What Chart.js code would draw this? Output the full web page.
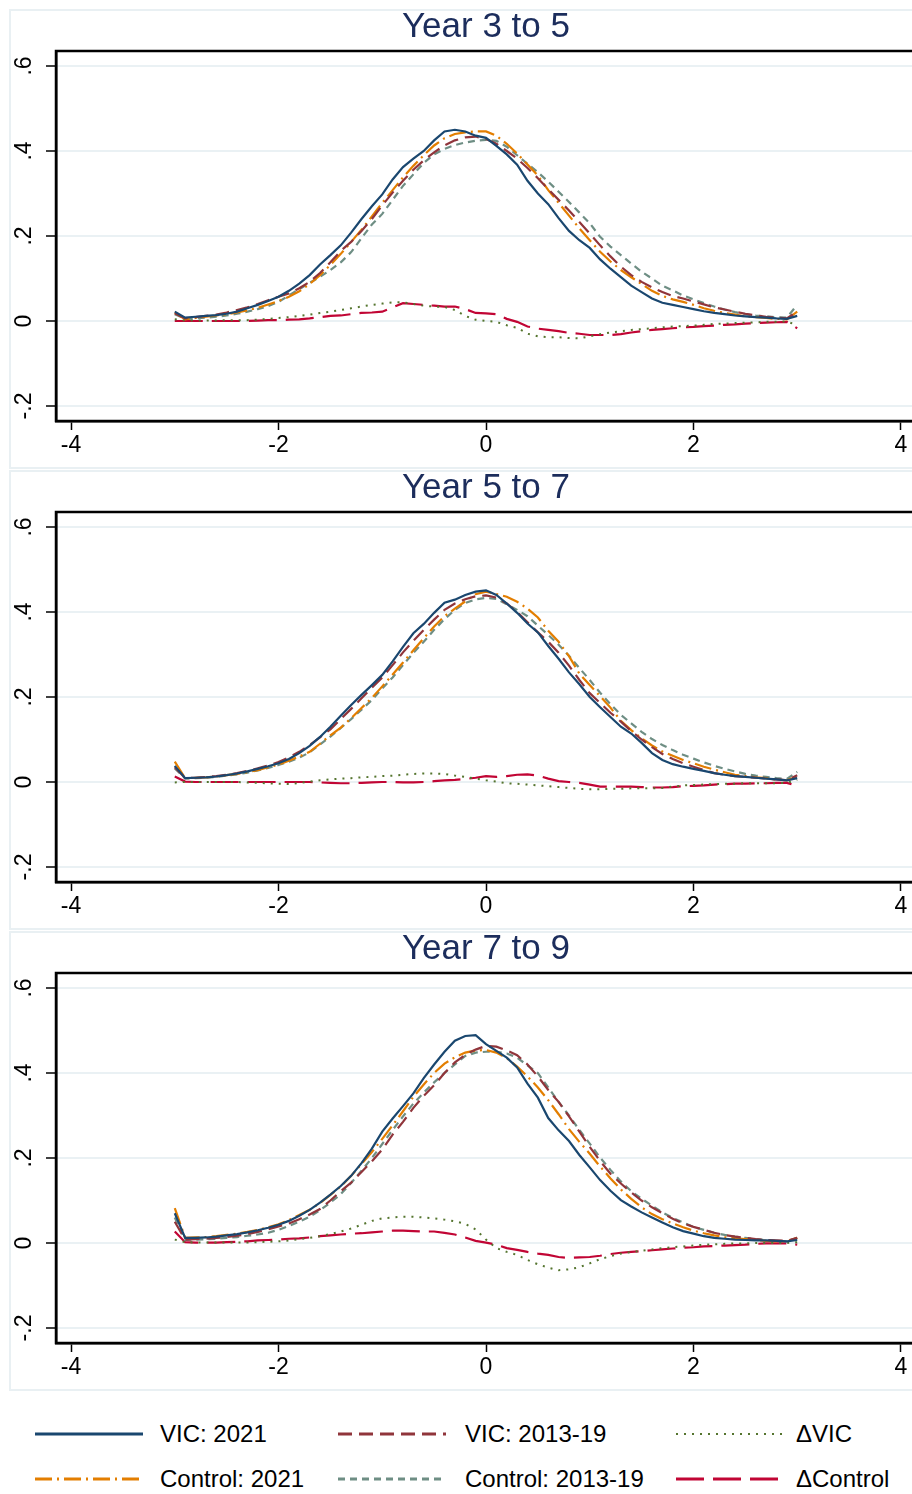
<!DOCTYPE html>
<html>
<head>
<meta charset="utf-8">
<script src="https://cdn.jsdelivr.net/npm/chart.js@4.4.1/dist/chart.umd.min.js"></script>
<style>
  body { margin:0; background:#fff; width:912px; height:1494px; overflow:hidden; position:relative;
         font-family:"Liberation Sans", Arial, Helvetica, sans-serif; }
  .frame { position:absolute; left:9px; width:980px; height:460px; box-sizing:border-box; border:2px solid #e9f0f3; }
  .panel { position:absolute; left:9px; }
  .title { position:absolute; left:0; width:972px; text-align:center; font-size:35px; line-height:34px; color:#1c2d5c; }
  .key { position:absolute; font-size:24px; line-height:24px; color:#000; white-space:nowrap; }
  .swatch { position:absolute; }
</style>
</head>
<body>
<script>
// common evaluation grid, -3 .. 3 in steps of 0.1
const xGrid = [
  -3.0,-2.9,-2.8,-2.7,-2.6,-2.5,-2.4,-2.3,-2.2,-2.1,
  -2.0,-1.9,-1.8,-1.7,-1.6,-1.5,-1.4,-1.3,-1.2,-1.1,
  -1.0,-0.9,-0.8,-0.7,-0.6,-0.5,-0.4,-0.3,-0.2,-0.1,
   0.0, 0.1, 0.2, 0.3, 0.4, 0.5, 0.6, 0.7, 0.8, 0.9,
   1.0, 1.1, 1.2, 1.3, 1.4, 1.5, 1.6, 1.7, 1.8, 1.9,
   2.0, 2.1, 2.2, 2.3, 2.4, 2.5, 2.6, 2.7, 2.8, 2.9,
   3.0
];
const xTicks = [-4, -2, 0, 2, 4];
const yTicks = [-0.2, 0, 0.2, 0.4, 0.6];
const panelTitles = ['Year 3 to 5', 'Year 5 to 7', 'Year 7 to 9'];
const seriesNames = ['VIC: 2021', 'VIC: 2013-19', '\u0394VIC', 'Control: 2021', 'Control: 2013-19', '\u0394Control'];

// ---- Year 3 to 5 ----
const vic21_35 = [
  0.022,0.008,0.010,0.012,0.014,0.017,0.022,0.030,0.038,0.047,
  0.057,0.071,0.088,0.108,0.133,0.155,0.178,0.208,0.240,0.270,
  0.298,0.333,0.362,0.382,0.400,0.425,0.446,0.450,0.446,0.436,
  0.431,0.412,0.392,0.368,0.330,0.300,0.275,0.242,0.212,0.190,
  0.172,0.145,0.123,0.103,0.083,0.068,0.053,0.043,0.038,0.033,
  0.028,0.023,0.019,0.016,0.013,0.011,0.009,0.008,0.006,0.005,
  0.012
];
const vic1319_35 = [
  0.018,0.006,0.009,0.012,0.015,0.020,0.026,0.032,0.040,0.049,
  0.057,0.065,0.077,0.092,0.113,0.138,0.165,0.186,0.212,0.240,
  0.272,0.302,0.330,0.356,0.378,0.397,0.413,0.425,0.432,0.434,
  0.428,0.417,0.400,0.382,0.360,0.336,0.310,0.285,0.260,0.233,
  0.206,0.178,0.152,0.128,0.108,0.092,0.079,0.068,0.059,0.053,
  0.046,0.039,0.032,0.027,0.022,0.017,0.013,0.010,0.008,0.006,
  0.022
];
const dvic_35 = [
  0.004,0.001,0.001,0.001,0.001,0.002,0.002,0.002,0.003,0.005,
  0.007,0.009,0.012,0.015,0.019,0.022,0.026,0.030,0.034,0.038,
  0.041,0.044,0.044,0.040,0.036,0.034,0.033,0.026,0.012,0.003,
  0.000,-0.002,-0.010,-0.016,-0.030,-0.036,-0.038,-0.038,-0.040,-0.041,
  -0.036,-0.031,-0.027,-0.024,-0.021,-0.019,-0.017,-0.015,-0.013,-0.012,
  -0.011,-0.009,-0.007,-0.006,-0.005,-0.004,-0.003,-0.002,-0.002,-0.001,
  -0.010
];
const ctl21_35 = [
  0.020,0.004,0.007,0.010,0.013,0.016,0.020,0.025,0.031,0.039,
  0.047,0.057,0.070,0.087,0.108,0.132,0.158,0.186,0.215,0.246,
  0.278,0.308,0.338,0.365,0.390,0.413,0.430,0.440,0.444,0.446,
  0.446,0.436,0.417,0.394,0.368,0.342,0.308,0.278,0.248,0.218,
  0.190,0.163,0.140,0.120,0.103,0.087,0.071,0.059,0.051,0.045,
  0.038,0.030,0.024,0.019,0.015,0.011,0.009,0.007,0.005,0.004,
  0.022
];
const ctl1319_35 = [
  0.016,0.005,0.006,0.008,0.010,0.013,0.017,0.022,0.028,0.035,
  0.045,0.060,0.075,0.090,0.104,0.120,0.138,0.162,0.195,0.227,
  0.252,0.285,0.318,0.345,0.372,0.392,0.405,0.414,0.420,0.424,
  0.426,0.424,0.410,0.390,0.370,0.350,0.328,0.304,0.280,0.255,
  0.230,0.198,0.175,0.155,0.135,0.116,0.100,0.083,0.072,0.060,
  0.051,0.042,0.034,0.027,0.021,0.016,0.013,0.011,0.009,0.008,
  0.038
];
const dctl_35 = [
  0.000,0.000,0.000,0.000,0.000,0.000,0.000,0.000,0.001,0.002,
  0.002,0.003,0.004,0.006,0.009,0.012,0.013,0.016,0.019,0.020,
  0.022,0.032,0.042,0.040,0.038,0.036,0.034,0.034,0.028,0.019,
  0.018,0.016,0.005,-0.002,-0.013,-0.018,-0.021,-0.024,-0.028,-0.030,
  -0.033,-0.033,-0.033,-0.031,-0.027,-0.024,-0.021,-0.019,-0.017,-0.015,
  -0.014,-0.012,-0.011,-0.009,-0.008,-0.006,-0.005,-0.004,-0.003,-0.002,
  -0.017
];

// ---- Year 5 to 7 ----
const vic21_57 = [
  0.038,0.009,0.010,0.011,0.013,0.016,0.020,0.025,0.031,0.037,
  0.044,0.054,0.068,0.085,0.106,0.130,0.156,0.181,0.205,0.228,
  0.252,0.284,0.318,0.350,0.372,0.398,0.422,0.429,0.440,0.448,
  0.451,0.440,0.420,0.398,0.373,0.352,0.320,0.290,0.258,0.230,
  0.200,0.176,0.153,0.130,0.114,0.092,0.068,0.052,0.042,0.036,
  0.031,0.026,0.021,0.017,0.014,0.012,0.010,0.008,0.006,0.004,
  0.009
];
const vic1319_57 = [
  0.035,0.009,0.010,0.012,0.014,0.017,0.021,0.026,0.032,0.039,
  0.047,0.058,0.071,0.087,0.105,0.124,0.148,0.172,0.197,0.222,
  0.246,0.275,0.305,0.332,0.358,0.382,0.405,0.420,0.430,0.437,
  0.439,0.434,0.420,0.400,0.376,0.352,0.330,0.304,0.274,0.240,
  0.209,0.186,0.163,0.142,0.120,0.100,0.082,0.066,0.054,0.044,
  0.036,0.028,0.021,0.017,0.014,0.012,0.010,0.008,0.006,0.004,
  0.016
];
const dvic_57 = [
  -0.001,0.000,0.000,0.000,0.000,0.000,0.000,-0.001,-0.002,-0.003,
  -0.004,-0.005,-0.002,0.001,0.004,0.006,0.008,0.009,0.011,0.012,
  0.014,0.015,0.017,0.019,0.020,0.020,0.019,0.015,0.012,0.008,
  0.004,0.001,-0.003,-0.004,-0.006,-0.008,-0.010,-0.012,-0.014,-0.016,
  -0.017,-0.017,-0.016,-0.016,-0.015,-0.015,-0.015,-0.014,-0.011,-0.008,
  -0.007,-0.006,-0.005,-0.004,-0.004,-0.003,-0.003,-0.003,-0.003,-0.002,
  0.005
];
const ctl21_57 = [
  0.048,0.009,0.010,0.011,0.013,0.016,0.019,0.023,0.028,0.035,
  0.041,0.050,0.060,0.071,0.090,0.110,0.128,0.150,0.174,0.198,
  0.225,0.253,0.281,0.310,0.338,0.366,0.390,0.408,0.425,0.442,
  0.448,0.442,0.436,0.424,0.408,0.387,0.356,0.330,0.296,0.255,
  0.228,0.202,0.175,0.144,0.122,0.103,0.086,0.072,0.062,0.052,
  0.044,0.036,0.029,0.023,0.017,0.014,0.011,0.009,0.006,0.004,
  0.013
];
const ctl1319_57 = [
  0.032,0.008,0.009,0.010,0.012,0.015,0.018,0.022,0.027,0.033,
  0.040,0.048,0.057,0.070,0.088,0.107,0.127,0.148,0.170,0.193,
  0.220,0.246,0.275,0.304,0.330,0.358,0.383,0.405,0.421,0.430,
  0.433,0.431,0.418,0.405,0.390,0.368,0.346,0.323,0.297,0.268,
  0.240,0.210,0.183,0.158,0.138,0.118,0.101,0.087,0.075,0.064,
  0.055,0.046,0.038,0.031,0.025,0.019,0.015,0.012,0.009,0.007,
  0.024
];
const dctl_57 = [
  0.013,0.001,0.000,0.000,0.000,0.000,0.000,0.000,0.000,0.000,
  0.000,0.000,0.000,0.000,-0.001,-0.002,-0.003,-0.003,-0.002,-0.001,
  0.000,0.000,-0.001,-0.001,0.000,0.002,0.004,0.005,0.007,0.010,
  0.014,0.012,0.014,0.017,0.018,0.015,0.008,0.002,0.000,-0.002,
  -0.006,-0.011,-0.011,-0.011,-0.011,-0.012,-0.013,-0.013,-0.012,-0.010,
  -0.009,-0.008,-0.006,-0.005,-0.004,-0.004,-0.003,-0.003,-0.002,-0.002,
  -0.009
];

// ---- Year 7 to 9 ----
const vic21_79 = [
  0.070,0.012,0.012,0.013,0.015,0.018,0.021,0.025,0.030,0.036,
  0.043,0.052,0.064,0.078,0.095,0.114,0.134,0.158,0.188,0.222,
  0.262,0.293,0.322,0.352,0.388,0.420,0.450,0.476,0.487,0.489,
  0.468,0.452,0.436,0.413,0.375,0.342,0.294,0.265,0.240,0.207,
  0.178,0.148,0.123,0.101,0.086,0.072,0.060,0.048,0.037,0.028,
  0.022,0.016,0.012,0.010,0.008,0.007,0.006,0.006,0.005,0.004,
  0.007
];
const vic1319_79 = [
  0.050,0.008,0.009,0.010,0.012,0.014,0.017,0.021,0.026,0.032,
  0.039,0.046,0.056,0.067,0.080,0.100,0.122,0.142,0.167,0.192,
  0.220,0.255,0.285,0.318,0.346,0.371,0.400,0.425,0.443,0.455,
  0.464,0.462,0.453,0.442,0.420,0.392,0.360,0.332,0.298,0.262,
  0.226,0.193,0.163,0.140,0.119,0.100,0.084,0.070,0.057,0.046,
  0.038,0.031,0.024,0.019,0.015,0.012,0.009,0.007,0.006,0.005,
  0.012
];
const dvic_79 = [
  0.008,0.002,0.001,0.001,0.001,0.001,0.001,0.001,0.002,0.003,
  0.004,0.006,0.009,0.012,0.016,0.021,0.027,0.034,0.043,0.052,
  0.058,0.060,0.062,0.062,0.060,0.058,0.055,0.051,0.045,0.032,
  0.008,-0.012,-0.021,-0.028,-0.040,-0.050,-0.058,-0.064,-0.062,-0.057,
  -0.048,-0.038,-0.031,-0.025,-0.021,-0.018,-0.015,-0.012,-0.010,-0.008,
  -0.006,-0.004,-0.003,-0.002,-0.001,-0.001,0.000,0.000,0.000,0.000,
  0.002
];
const ctl21_79 = [
  0.082,0.012,0.013,0.014,0.016,0.019,0.022,0.026,0.031,0.037,
  0.044,0.054,0.066,0.078,0.094,0.113,0.133,0.158,0.186,0.214,
  0.245,0.277,0.310,0.344,0.373,0.400,0.422,0.437,0.448,0.453,
  0.454,0.448,0.435,0.415,0.392,0.366,0.336,0.303,0.268,0.238,
  0.210,0.180,0.152,0.126,0.104,0.084,0.068,0.056,0.046,0.037,
  0.029,0.023,0.018,0.014,0.011,0.009,0.007,0.005,0.004,0.004,
  0.012
];
const ctl1319_79 = [
  0.060,0.007,0.008,0.009,0.010,0.012,0.014,0.017,0.020,0.024,
  0.031,0.040,0.050,0.062,0.077,0.095,0.115,0.141,0.170,0.200,
  0.233,0.266,0.298,0.328,0.354,0.378,0.400,0.420,0.440,0.448,
  0.450,0.450,0.446,0.436,0.418,0.400,0.366,0.332,0.300,0.266,
  0.234,0.201,0.172,0.145,0.122,0.104,0.088,0.072,0.059,0.048,
  0.038,0.031,0.024,0.019,0.015,0.012,0.009,0.007,0.005,0.004,
  0.012
];
const dctl_79 = [
  0.027,0.002,0.001,0.001,0.001,0.002,0.003,0.004,0.006,0.007,
  0.008,0.010,0.011,0.013,0.016,0.018,0.020,0.022,0.023,0.025,
  0.027,0.029,0.029,0.028,0.027,0.027,0.024,0.020,0.013,0.005,
  0.001,-0.004,-0.012,-0.016,-0.021,-0.025,-0.028,-0.033,-0.035,-0.034,
  -0.033,-0.030,-0.026,-0.023,-0.021,-0.019,-0.017,-0.015,-0.013,-0.011,
  -0.010,-0.008,-0.007,-0.006,-0.005,-0.004,-0.002,-0.001,-0.001,-0.001,
  -0.004
];

const panelSeries = [
  [vic21_35, vic1319_35, dvic_35, ctl21_35, ctl1319_35, dctl_35],
  [vic21_57, vic1319_57, dvic_57, ctl21_57, ctl1319_57, dctl_57],
  [vic21_79, vic1319_79, dvic_79, ctl21_79, ctl1319_79, dctl_79]
];

// Stata s2color pens
const seriesStyle = [
  { color:'#1a476f', dash:[],           width:2.2 },
  { color:'#90353b', dash:[14, 7],      width:2.2 },
  { color:'#55752f', dash:[2, 6],       width:2   },
  { color:'#e37e00', dash:[17, 5, 2, 5],width:2.2 },
  { color:'#6e8e84', dash:[7, 5],       width:2.2 },
  { color:'#c10534', dash:[28, 9],      width:2.2 }
];

const FONT = '"Liberation Sans", Arial, Helvetica, sans-serif';
const PANEL_TOP = [9, 470, 931];
const CANVAS_W = 954, CANVAS_H = 459;

// black box round the plot region
const framePlugin = {
  id: 'frame',
  afterDraw(chart) {
    const { ctx, chartArea: a } = chart;
    ctx.save();
    ctx.strokeStyle = '#000';
    ctx.lineWidth = 2.5;
    ctx.strokeRect(a.left, a.top, a.right - a.left, a.bottom - a.top);
    ctx.restore();
  }
};

const fmtY = v => (v === 0 ? '0' : String(v).replace('0.', '.'));

function makePanel(i) {
  const frame = document.createElement('div');
  frame.className = 'frame';
  frame.style.top = PANEL_TOP[i] + 'px';
  document.body.appendChild(frame);

  const canvas = document.createElement('canvas');
  canvas.className = 'panel';
  canvas.width = CANVAS_W; canvas.height = CANVAS_H;
  canvas.style.top = PANEL_TOP[i] + 'px';
  canvas.style.width = CANVAS_W + 'px'; canvas.style.height = CANVAS_H + 'px';
  document.body.appendChild(canvas);

  const title = document.createElement('div');
  title.className = 'title';
  title.style.top = (PANEL_TOP[i] - 1) + 'px';
  title.textContent = panelTitles[i];
  document.body.appendChild(title);

  const datasets = panelSeries[i].map((ys, k) => ({
    label: seriesNames[k],
    data: xGrid.map((x, j) => ({ x, y: ys[j] })),
    borderColor: seriesStyle[k].color,
    borderDash: seriesStyle[k].dash,
    borderWidth: seriesStyle[k].width,
    pointRadius: 0,
    tension: 0,
    fill: false
  }));

  new Chart(canvas, {
    type: 'line',
    data: { datasets },
    plugins: [framePlugin],
    options: {
      responsive: false,
      animation: false,
      devicePixelRatio: 1,
      layout: { padding: { top: 42, right: 47, left: 0, bottom: 0 } },
      plugins: { legend: { display: false }, tooltip: { enabled: false }, title: { display: false } },
      scales: {
        x: {
          type: 'linear', position: 'bottom', min: -4.145, max: 4.145,
          afterBuildTicks: s => { s.ticks = xTicks.map(v => ({ value: v })); },
          afterFit: s => { s.height = 47; },
          grid: { drawOnChartArea: false, drawTicks: true, tickLength: 9, tickColor: '#000', tickWidth: 1.5 },
          border: { display: true, color: '#000', width: 2.5 },
          ticks: { color: '#000', font: { family: FONT, size: 23 }, padding: 2, maxRotation: 0, autoSkip: false,
                   callback: v => String(v) }
        },
        y: {
          type: 'linear', position: 'left', min: -0.2353, max: 0.6353,
          afterBuildTicks: s => { s.ticks = yTicks.map(v => ({ value: v })); },
          afterFit: s => { s.width = 47; },
          grid: { color: '#eaf1f4', lineWidth: 2, drawTicks: true, tickLength: 10, tickColor: '#000', tickWidth: 1.5 },
          border: { display: true, color: '#000', width: 2.5 },
          ticks: { color: '#000', font: { family: FONT, size: 23 }, padding: 8, minRotation: 90, maxRotation: 90,
                   crossAlign: 'center', autoSkip: false, callback: fmtY }
        }
      }
    }
  });
}

[0, 1, 2].forEach(makePanel);

// legend: three columns, two rows
const keyCols = [
  { line: 35, text: 160 },
  { line: 338, text: 465 },
  { line: 676, text: 796 }
];
const keyRows = [1434, 1479];
const SVGNS = 'http://www.w3.org/2000/svg';

seriesNames.forEach((name, k) => {
  const col = keyCols[k % 3], rowY = keyRows[Math.floor(k / 3)];
  const st = seriesStyle[k];

  const svg = document.createElementNS(SVGNS, 'svg');
  svg.setAttribute('class', 'swatch');
  svg.setAttribute('width', 108); svg.setAttribute('height', 10);
  svg.style.left = col.line + 'px';
  svg.style.top = (rowY - 5) + 'px';
  const ln = document.createElementNS(SVGNS, 'line');
  ln.setAttribute('x1', 0); ln.setAttribute('x2', 108);
  ln.setAttribute('y1', 5); ln.setAttribute('y2', 5);
  ln.setAttribute('stroke', st.color);
  ln.setAttribute('stroke-width', k === 2 ? 2 : 3);
  if (st.dash.length) ln.setAttribute('stroke-dasharray', st.dash.join(' '));
  svg.appendChild(ln);
  document.body.appendChild(svg);

  const label = document.createElement('div');
  label.className = 'key';
  label.style.left = col.text + 'px';
  label.style.top = (rowY - 12) + 'px';
  label.textContent = name;
  document.body.appendChild(label);
});
</script>
</body>
</html>
